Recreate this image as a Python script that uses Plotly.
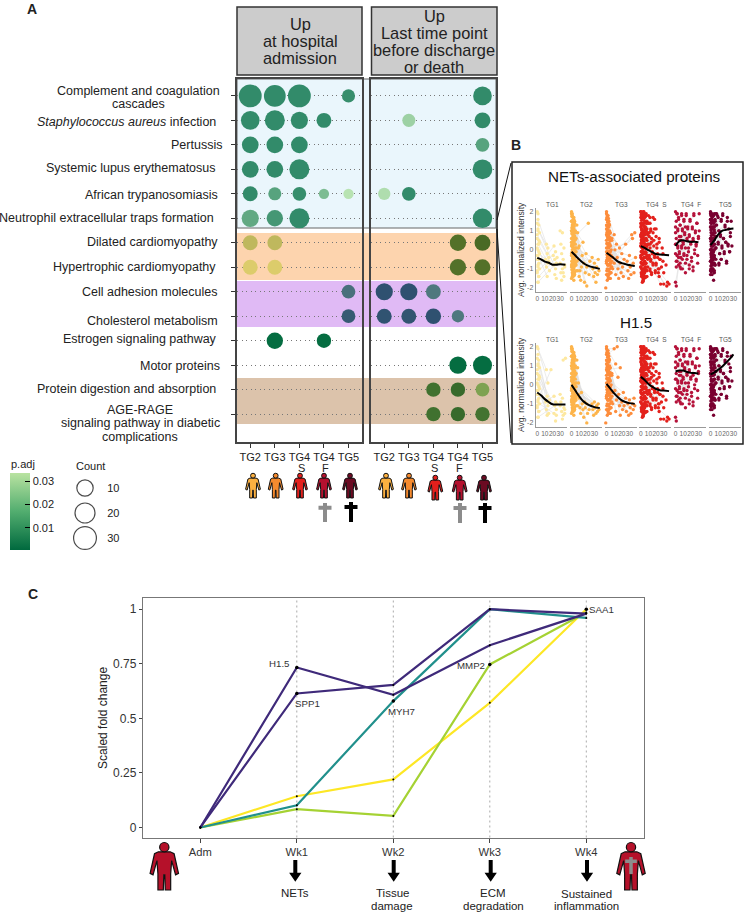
import plotly.graph_objects as go

W, H = 744, 912
def px(v): return v / W
def py(v): return 1 - v / H
FONT = "Liberation Sans"

# ---------- Panel A data ----------
row_ids = list(range(14))
groups = ["TG2", "TG3", "TG4", "TG4", "TG5"]
group_pos = [0, 1, 2, 3, 4]
N = None
count_admission = [
    [30, 26, 30, N, 4], [16, 20, 12, 7, N], [11, 11, 11, N, N], [11, 11, 20, N, N],
    [7, 4, 5, 1, 1], [12, 10, 20, N, N], [7, 7, N, N, N], [7, 7, N, N, N],
    [N, N, N, N, 5], [N, N, N, N, 5], [N, 10, N, 6, N], [N, N, N, N, N],
    [N, N, N, N, N], [N, N, N, N, N]]
padj_admission = [
    [.004, .004, .004, N, .005], [.004, .004, .004, .004, N], [.004, .004, .004, N, N], [.004, .004, .004, N, N],
    [.004, .012, .005, .02, .033], [.014, .008, .004, N, N], [.026, .026, N, N, N], [.032, .032, N, N, N],
    [N, N, N, N, .02], [N, N, N, N, .008], [N, .001, N, .001, N], [N, N, N, N, N],
    [N, N, N, N, N], [N, N, N, N, N]]
count_last = [
    [N, N, N, N, 16], [N, 4, N, N, 9], [N, N, N, N, 5], [N, N, N, N, 19],
    [3, 5, N, N, N], [N, N, N, N, 18], [N, N, N, 10, 9], [N, N, N, 10, 9],
    [12, 12, 7, N, N], [7, 7, 8, 3, N], [N, N, N, N, N], [N, N, N, 12, 17],
    [N, N, 6, 6, 5], [N, N, 6, 6, 6]]
padj_last = [
    [N, N, N, N, .004], [N, .027, N, N, .004], [N, N, N, N, .012], [N, N, N, N, .004],
    [.031, .004, N, N, N], [N, N, N, N, .004], [N, N, N, .004, .002], [N, N, N, .004, .004],
    [.003, .003, .024, N, N], [.004, .005, .003, .024, N], [N, N, N, N, N], [N, N, N, .001, .001],
    [N, N, .006, .003, .028], [N, N, .006, .003, .007]]
band_of_row = ["blue"] * 6 + ["orange"] * 2 + ["purple"] * 2 + ["white"] * 2 + ["tan"] * 2
band_ramp = {
    "blue": ((0x20, 0x7f, 0x60), (0xbd, 0xe6, 0xb5)),
    "orange": ((0x3f, 0x64, 0x20), (0xe6, 0xd2, 0x70)),
    "purple": ((0x2a, 0x4c, 0x6e), (0x5f, 0x8a, 0x85)),
    "white": ((0x00, 0x69, 0x3e), (0xb7, 0xe1, 0x9e)),
    "tan": ((0x2f, 0x63, 0x26), (0x8f, 0xb0, 0x5a)),
}
row_labels = [
    (["Complement and coagulation", "cascades"], 138, [90.7, 103.7], "center"),
    (["<i>Staphylococcus aureus</i> infection"], 218, [121.7], "right"),
    (["Pertussis"], 224, [145], "right"),
    (["Systemic lupus erythematosus"], 218, [168], "right"),
    (["African trypanosomiasis"], 220, [195], "right"),
    (["Neutrophil extracellular traps formation"], 216, [218], "right"),
    (["Dilated cardiomyopathy"], 220, [242], "right"),
    (["Hypertrophic cardiomyopathy"], 218, [267], "right"),
    (["Cell adhesion molecules"], 220, [292], "right"),
    (["Cholesterol metabolism"], 220, [321], "right"),
    (["Estrogen signaling pathway"], 219, [339], "right"),
    (["Motor proteins"], 222, [365.5], "right"),
    (["Protein digestion and absorption"], 218, [389], "right"),
    (["AGE-RAGE", "signaling pathway in diabetic", "complications"], 140, [410, 423, 436.6], "center"),
]
legend_counts = [10, 20, 30]

# ---------- Panel B data: (day, normalized intensity) ----------
panel_names = ["TG1", "TG2", "TG3", "TG4  S", "TG4  F", "TG5"]
panel_colors = ["#fde8a0", "#fdb44b", "#fd8d3c", "#e3211c", "#b5123a", "#7a0030"]
net_tg1 = [(1,1.6),(1,1.1),(0,.8),(2,.5),(1,.3),(0,.1),(2,-.1),(1,-.3),(0,-.5),(2,-.7),(1,-.9),(0,-1.2),(2,-1.4),(1,-1.7),(3,.9),(3,-.2),
 (12,.3),(14,.1),(13,-.2),(15,-.4),(14,-.7),(12,-.9),(16,-1.1),(13,-1.4),(15,-.6),(11,-.5),
 (22,.2),(24,-.1),(23,-.5),(25,-.7),(22,-.8),(24,-1),(23,-1.3),(26,-.4),(25,-1.5),(21,-.3),
 (30,1),(33,.9),(31,.3),(35,.1),(32,-.2),(34,-.5),(30,-.7),(36,-.8),(33,-1),(31,-1.2),(35,-1.4),(32,-1.6),(36,-.9),(34,-1.2)]
net_tg2 = [(0,2),(1,1.9),(2,1.7),(0,1.5),(3,1.6),(1,1.3),(2,1.2),(4,1.4),(0,1),(1,.9),(3,1.),(2,.7),(0,.6),(4,.7),(1,.4),(3,.4),(0,.2),(2,.1),(5,.3),(1,-.1),(3,-.2),(0,-.3),(2,-.4),(5,-.3),(1,-.6),(4,-.6),(0,-.8),(2,-.9),(3,-1),(6,-.8),(1,-1.2),(4,-1.2),(2,-1.4),(0,-1.5),(6,.1),
 (8,.9),(10,.2),(9,-.5),(11,-1.1),(12,-1.6),(14,-.3),(13,-.9),(10,-1.4),(15,.4),(16,-.7),(18,-1.2),(17,-1.7),(19,-.2),(20,-1.9),(20,-.9),(22,1.4),(23,-1.3),(24,-.6),
 (27,-.4),(28,-1),(29,-1.4),(30,-.7),(31,-1.2),(32,-1.7),(33,-.9),(34,-1.3),(35,-.5),(36,-1.1)]
net_tg3 = [(0,2),(1,1.8),(0,1.6),(2,1.5),(1,1.3),(3,1.2),(0,1.1),(2,.9),(4,1),(1,.7),(3,.6),(0,.5),(2,.3),(5,.5),(1,.1),(3,.1),(0,-.1),(4,-.1),(2,-.3),(6,0),(1,-.5),(3,-.5),(5,-.4),(0,-.7),(2,-.8),(4,-.8),(1,-1),(3,-1.1),(6,-.9),(0,-1.3),(2,-1.4),(5,-1.2),(4,-1.5),(1,-1.6),(-1,-2),(7,.6),(7,-.6),(8,-1),
 (10,.8),(11,0),(10,-.7),(12,-1.3),(13,.3),(14,-.4),(15,-1),(16,-1.5),(17,.1),(18,-.7),(19,-1.2),(20,-.2),(21,-.9),(22,-1.4),(23,-.5),
 (25,.3),(27,-.6),(28,-1.1),(29,-1.5),(30,-.3),(31,-.9),(32,-1.3),(33,.8),(34,.6),(35,-.7),(36,-1.2),(37,.9),(38,-.4)]
net_tg4s = [(0,2),(1,1.9),(3,2),(5,1.9),(0,1.7),(2,1.6),(4,1.7),(7,1.8),(1,1.4),(3,1.4),(6,1.5),(0,1.2),(2,1.1),(5,1.2),(8,1.4),(1,.9),(4,.9),(7,1),(0,.7),(2,.6),(3,.7),(6,.6),(9,.8),(1,.4),(4,.4),(8,.5),(0,.2),(2,.1),(5,.2),(7,.1),(10,.3),(1,-.1),(3,-.1),(6,-.1),(0,-.3),(4,-.4),(8,-.3),(2,-.5),(5,-.6),(1,-.7),(3,-.8),(7,-.7),(0,-.9),(4,-1),(9,-.9),(2,-1.1),(6,-1.1),(1,-1.3),(5,-1.4),(3,-1.5),(8,-1.4),(2,-1.7),
 (10,1.4),(12,1.7),(11,.7),(13,1),(12,.1),(14,.4),(11,-.4),(13,-.6),(12,-1.1),(15,-.2),(14,-1.3),(16,.9),(17,.2),(18,1.6),(16,-.8),(18,-.4),(19,-1.2),(20,1.1),(21,.3),(20,-.7),(22,-.2),(23,-1),(24,.6),(25,-.5),(24,-1.4),(26,-1.8),(28,.1),(29,-.6),(30,-1.8),(34,-1.9),(37,-1.8)]
net_tg4f = [(0,-1.7),(1,-1.9),(0,1.2),(1,.6),(2,1.9),(0,.3),(2,-.3),(1,-.6),(3,1),(3,.1),(4,1.6),(4,-.8),(5,.5),(5,-.2),(6,1.3),(6,-.9),(7,.7),(7,-.4),(8,1.9),(8,.2),(9,1.1),(9,-1),
 (10,.4),(11,1.5),(11,-.3),(12,.9),(13,.1),(13,-1.2),(14,1.8),(15,.6),(15,-.5),(16,1.2),(17,-.1),(18,.8),(18,-1),(19,1.6),(20,.3),(21,-.6),(22,1.1),(23,.5),(23,-1.1),(24,1.9),(25,-.2),(26,.9),(27,.2),(28,1.4),(29,-.7),(30,.6),(31,1)]
net_tg5 = [(0,1.9),(2,1.8),(5,1.9),(8,1.9),(0,1.6),(1,1.4),(3,1.5),(6,1.6),(0,1.2),(2,1.1),(4,1.2),(7,1.3),(1,.9),(3,.8),(5,.9),(0,.6),(2,.5),(4,.5),(6,.7),(1,.2),(3,.2),(5,.3),(0,0),(2,-.1),(4,-.1),(7,.1),(1,-.4),(3,-.4),(5,-.3),(0,-.6),(2,-.7),(4,-.7),(1,-1),(3,-1),(6,-.8),(0,-1.3),(2,-1.3),(5,-1.2),(4,-1.6),(7,-.5),
 (10,1.7),(11,1),(10,.3),(12,-.2),(13,.7),(11,-.8),(14,1.5),(15,.1),(14,-.5),(16,1.8),(17,.6),(18,-.2),(19,1.2),(20,.4),(21,-.7),(22,1.5),(23,.2),(25,-.1),(28,.2),(26,.9)]
h15_tg1 = [(0,2),(1,1.9),(0,1.4),(2,1.3),(1,1),(0,.6),(2,.3),(1,0),(0,-.3),(2,-.5),(1,-.8),(0,-1.1),(2,-1.4),(1,-1.7),(3,.4),(3,-1),
 (12,.8),(14,.1),(13,-.6),(15,-.9),(14,-1.1),(12,-1.3),(16,-.8),(13,-1.6),(15,-1.5),(11,-.9),
 (18,.8),(22,-.6),(24,-.9),(23,-1.1),(25,-1.3),(22,-1.5),(24,-1.9),(26,-1),(25,-1.6),
 (30,-.5),(33,-.7),(31,-.9),(35,-1.2),(32,-1.4),(34,-1.6),(30,-1.1),(36,-1.3),(33,-1.8),(37,1.4),(34,1.3),(36,-1.5)]
h15_tg2 = [(0,1.9),(1,1.8),(3,1.7),(0,1.5),(2,1.4),(4,1.5),(1,1.2),(3,1.1),(0,1),(2,.8),(5,1),(1,.6),(4,.6),(0,.4),(2,.2),(3,.3),(5,.1),(1,0),(0,-.2),(3,-.2),(6,-.1),(2,-.4),(4,-.5),(1,-.7),(5,-.7),(0,-.9),(3,-.9),(7,-.6),(2,-1.1),(6,-1.1),(4,-1.3),(1,-1.4),(3,-1.6),(8,-1.1),(6,.6),(7,1.3),
 (9,.1),(10,-.7),(11,-1.2),(12,-1.5),(13,-.4),(14,-1),(15,-1.3),(16,-1.7),(17,-.9),(18,-1.2),(20,-1),(21,-1.5),(20,-2),(23,-1.3),
 (27,-1),(28,-1.3),(29,-1.6),(30,-.9),(31,-1.2),(32,-1.5),(33,-1.1),(34,-1.4),(35,-1),(36,-1.3)]
h15_tg3 = [(0,1.9),(2,1.8),(1,1.6),(3,1.5),(0,1.3),(2,1.2),(4,1.3),(1,1),(3,.9),(0,.8),(5,.9),(2,.6),(4,.5),(1,.3),(3,.2),(0,.1),(5,.2),(2,-.1),(4,-.2),(1,-.4),(6,-.3),(3,-.5),(0,-.6),(5,-.7),(2,-.8),(4,-1),(1,-1.1),(7,-.9),(3,-1.3),(6,-1.2),(5,-1.5),(8,-.4),(7,.5),
 (10,1.9),(12,1.1),(14,2),(11,-.3),(13,-.8),(12,-1.4),(15,.4),(16,-.5),(17,-1.1),(18,.9),(18,-1.6),(20,-.9),(21,-1.3),(22,-.4),(23,-1.1),
 (25,-.7),(26,-1.4),(28,-1),(29,-1.6),(30,-.8),(31,-1.2),(32,-1.5),(34,-1),(35,-1.3),(36,-.7),(37,-1.1)]
h15_tg4s = [(0,2),(2,1.9),(4,2),(7,1.9),(1,1.7),(3,1.6),(5,1.7),(0,1.4),(2,1.3),(4,1.4),(8,1.5),(1,1.1),(3,1),(6,1.1),(0,.8),(2,.7),(5,.8),(9,.9),(1,.5),(3,.4),(7,.5),(0,.2),(2,.1),(4,.2),(6,.1),(8,.2),(1,-.1),(3,-.2),(5,-.2),(0,-.4),(2,-.5),(7,-.4),(1,-.7),(4,-.7),(9,-.5),(0,-.9),(3,-1),(6,-.9),(2,-1.2),(5,-1.2),(1,-1.4),(4,-1.5),(8,-1.1),(3,-1.6),
 (10,1.8),(12,1.4),(11,.9),(13,1.1),(12,.3),(14,.6),(11,-.3),(13,-.5),(12,-1),(15,-.1),(14,-1.2),(16,1.7),(17,.5),(18,1.1),(16,-.7),(18,-.3),(19,-1.1),(20,.7),(21,.1),(20,-.8),(22,-.4),(23,-1.2),(24,.4),(25,-.5),(24,-1),(27,-.9),(29,-.2),(30,-1.2),(33,-.8),(35,-1.7)]
h15_tg4f = [(0,2),(1,1.5),(0,.9),(1,.3),(2,1.9),(0,-.2),(2,-.6),(1,-.9),(3,1.1),(3,.2),(4,1.7),(4,-.4),(5,.7),(5,-.1),(6,1.3),(6,-.7),(7,.5),(7,-1),(8,1.8),(8,.1),(9,1),(9,-.5),
 (10,.3),(11,1.6),(11,-.2),(12,.8),(13,-.7),(13,1.2),(14,1.9),(15,.5),(15,-.3),(16,1.1),(17,.1),(18,.7),(18,-.8),(19,1.5),(20,.4),(21,-.4),(22,1.2),(23,.6),(23,-.9),(24,1.8),(25,0),(26,1),(27,.3),(28,1.4),(29,-.3),(30,.7),(31,1.9)]
h15_tg5 = [(0,2),(2,1.9),(4,1.8),(7,1.9),(0,1.6),(1,1.4),(3,1.5),(6,1.5),(0,1.2),(2,1.1),(5,1.2),(8,1.3),(1,.9),(3,.8),(6,.9),(0,.6),(2,.5),(4,.6),(7,.7),(1,.3),(3,.2),(5,.3),(0,0),(2,-.1),(4,0),(7,.1),(1,-.3),(3,-.3),(5,-.4),(0,-.6),(2,-.7),(4,-.7),(1,-1),(3,-1),(6,-.8),(0,-1.1),(5,-1.1),
 (9,1.8),(11,1),(10,.4),(12,-.2),(13,.8),(11,-.7),(14,1.6),(15,.2),(14,-.5),(16,1.9),(17,.6),(18,-.1),(19,1.3),(20,.4),(21,-.6),(22,1.7),(23,.3),(24,1.1),(25,-.1),(26,.7),(27,1.5)]
# extra readings from the densest, nearly solid part of each cloud (shared by both rows)
core_tg2 = [(.5,1.75),(1.5,1.55),(2.5,1.35),(.5,1.15),(1.5,1.05),(3.5,1.25),(.5,.85),(2.5,.95),(1.5,.55),(3.5,.75),(.5,.3),(2.5,.35),(4.5,.5),(1.5,.15),(3.5,.05),(.5,-.15),(2.5,-.2),(4.5,-.1),(1.5,-.45),(3.5,-.4),(.5,-.6),(2.5,-.65),(4.5,-.85),(1.5,-.85),(3.5,-.75),(.5,-1.05),(2.5,-1.15),(3.5,-1.35),(1.5,-1.3),(5,.9)]
core_tg3 = [(.5,1.7),(1.5,1.45),(2.5,1.65),(.5,1.25),(3.5,1.35),(1.5,1.05),(2.5,.75),(.5,.9),(3.5,.85),(4.5,.65),(1.5,.55),(.5,.35),(2.5,.15),(3.5,.35),(4.5,.25),(.5,-.25),(1.5,-.15),(2.5,-.55),(3.5,-.25),(5,-.1),(.5,-.55),(1.5,-.8),(3.5,-.75),(4.5,-.55),(.5,-1.1),(2.5,-1.05),(1.5,-1.3),(3.5,-1.25),(5.5,-.7),(2.5,-1.5)]
core_tg4s = [(.5,1.85),(2,1.8),(4,1.85),(6,1.75),(1,1.55),(3,1.6),(5,1.45),(7,1.4),(.5,1.3),(2,1.35),(4,1.25),(6,1.2),(8,1.1),(1,1.05),(3,.95),(5,.95),(.5,.8),(2,.85),(6,.85),(1,.55),(3,.5),(5,.55),(7,.6),(.5,.35),(2,.35),(4,.15),(6,.3),(9,.3),(1,.15),(3,.05),(7,-.15),(.5,-.1),(2,-.25),(5,-.2),(1,-.45),(3,-.45),(6,-.4),(.5,-.65),(2,-.75),(4,-.7),(6,-.75),(1,-1),(3,-1.1),(5,-1),(7,-1.05),(.5,-1.2),(2,-1.35),(4,-1.25),(3,-1.65),(6,-1.45)]
core_tg5 = [(.5,1.8),(1.5,1.65),(3,1.75),(.5,1.45),(2,1.45),(4,1.4),(5,1.55),(.5,1.05),(1.5,1.2),(3,1.2),(5,1.05),(1,.75),(2.5,.85),(4,.9),(.5,.45),(1.5,.6),(3,.55),(5,.55),(1,.05),(2,.25),(4,.25),(.5,-.2),(1.5,-.15),(3,-.2),(5,0),(1,-.55),(2.5,-.55),(4,-.5),(.5,-.85),(1.5,-.8),(3,-.8),(5,-.7),(1,-1.15),(2.5,-1.1),(.5,-1.05)]
panel_core = [[], core_tg2, core_tg3, core_tg4s, [], core_tg5]
panel_points = [[net_tg1, net_tg2, net_tg3, net_tg4s, net_tg4f, net_tg5],
                [h15_tg1, h15_tg2, h15_tg3, h15_tg4s, h15_tg4f, h15_tg5]]
smooth_days = [0, 5, 10, 15, 20, 25, 30, 37]
smooth_net = [[-.42, -.5, -.62, -.68, -.78, -.78, -.76, -.78], [-.1, -.3, -.5, -.68, -.8, -.88, -.93, -1.0],
              [-.15, -.3, -.45, -.62, -.7, -.75, -.8, -.85], [.2, .1, -.02, -.12, -.22, -.25, -.26, -.28],
              [.2, .46, .5, .45, .42, .42, .4, N], [.25, .5, .8, 1.0, 1.05, 1.1, 1.12, N]]
smooth_h15 = [[-.4, -.55, -.75, -.9, -1.02, -1.03, -1.03, -1.03], [0, -.3, -.6, -.85, -1.0, -1.1, -1.17, -1.22],
              [.05, -.2, -.45, -.65, -.82, -.9, -.96, -1.0], [.42, .25, .05, -.1, -.22, -.28, -.3, -.33],
              [.7, .75, .75, .68, .63, .62, .6, N], [.55, .65, .8, .95, 1.15, 1.35, 1.6, N]]
panel_smooth = [smooth_net, smooth_h15]

# ---------- Panel C data ----------
timepoints = ["Adm", "Wk1", "Wk2", "Wk3", "Wk4"]
time_pos = [0, 1, 2, 3, 4]
fc_h15 = [0, .733, .608, .835, .98]
fc_spp1 = [0, .614, .653, 1.0, .98]
fc_myh7 = [0, .102, .579, 1.0, .96]
fc_mmp2 = [0, .084, .053, .747, .985]
fc_saa1 = [0, .143, .22, .571, 1.0]

fig = go.Figure()
shapes, notes = [], []

def txt(x, y, s, size=12, anchor="center", color="#222", bold=False):
    notes.append(dict(xref="paper", yref="paper", x=px(x), y=py(y), text=f"<b>{s}</b>" if bold else s,
                      showarrow=False, xanchor=anchor, yanchor="middle", align=anchor,
                      font=dict(family=FONT, size=size, color=color)))

def rect(x0, y0, x1, y1, fill, line=None, lw=1, layer="below"):
    shapes.append(dict(type="rect", xref="paper", yref="paper", x0=px(x0), x1=px(x1), y0=py(y0), y1=py(y1),
                       fillcolor=fill, line=dict(color=line or fill, width=lw if line else 0), layer=layer))

def seg(x0, y0, x1, y1, color="#000", lw=1):
    shapes.append(dict(type="line", xref="paper", yref="paper", x0=px(x0), x1=px(x1), y0=py(y0), y1=py(y1),
                       line=dict(color=color, width=lw), layer="above"))

def poly(pts, fill, line=None, lw=1):
    d = "M " + " L ".join(f"{px(a):.5f},{py(b):.5f}" for a, b in pts) + " Z"
    shapes.append(dict(type="path", xref="paper", yref="paper", path=d, fillcolor=fill,
                       line=dict(color=line or fill, width=lw if line else 0), layer="above"))

BODY = [(.12, .2), (.2, .24), (.29, .64), (.23, .67), (.15, .38), (.13, .65), (.13, .98), (.02, .98), (.01, .67)]
def person(cx, top, h, color, lw=1):
    pts = [(cx - a * h, top + b * h) for a, b in BODY] + [(cx + a * h, top + b * h) for a, b in reversed(BODY)]
    poly(pts, color, "#111", lw)
    r = .095 * h
    shapes.append(dict(type="circle", xref="paper", yref="paper", x0=px(cx - r), x1=px(cx + r),
                       y0=py(top + .105 * h + r), y1=py(top + .105 * h - r), fillcolor=color,
                       line=dict(color="#111", width=lw), layer="above"))

def cross(cx, top, bottom, span, thick, color):
    arm = top + (bottom - top) * .25
    poly([(cx - thick / 2, top), (cx + thick / 2, top), (cx + thick / 2, arm - thick / 2), (cx + span / 2, arm - thick / 2),
          (cx + span / 2, arm + thick / 2), (cx + thick / 2, arm + thick / 2), (cx + thick / 2, bottom), (cx - thick / 2, bottom),
          (cx - thick / 2, arm + thick / 2), (cx - span / 2, arm + thick / 2), (cx - span / 2, arm - thick / 2), (cx - thick / 2, arm - thick / 2)], color)

def arrow(cx, y0, y1, stem=4, head=12.3):
    neck = y1 - 9
    poly([(cx - stem / 2, y0), (cx + stem / 2, y0), (cx + stem / 2, neck), (cx + head / 2, neck), (cx, y1), (cx - head / 2, neck), (cx - stem / 2, neck)], "#000")

def size_of(c): return 7.5 + 2.8 * c ** .5
def color_of(p, row):
    lo, hi = band_ramp[band_of_row[row]]
    t = min(p / .034, 1)
    return "rgb(%d,%d,%d)" % tuple(round(a + (b - a) * t) for a, b in zip(lo, hi))

# ---------- Panel A ----------
rect(237, 79, 496, 228, "#eaf6fc", "#666", 1)
rect(237, 233, 496, 280, "#fdd4ae")
rect(237, 281, 496, 327, "#e0baf5")
rect(237, 378, 496, 424, "#dcc3ab")

for counts, pvals, xa, ya in ((count_admission, padj_admission, "x", "y"), (count_last, padj_last, "x2", "y2")):
    xs, ys, ss, cs = [], [], [], []
    for r in row_ids:
        for g in group_pos:
            if counts[r][g] is not None:
                xs.append(g); ys.append(r); ss.append(size_of(counts[r][g])); cs.append(color_of(pvals[r][g], r))
    fig.add_trace(go.Scatter(x=xs, y=ys, mode="markers", xaxis=xa, yaxis=ya, cliponaxis=False, showlegend=False,
                             marker=dict(size=ss, color=cs, line=dict(width=0), opacity=1)))

common_x = dict(range=[-.54, 4.55], tickvals=group_pos, ticktext=groups, ticks="outside", ticklen=4, tickcolor="#333",
                showline=True, mirror=True, linecolor="#444", linewidth=1.5, showgrid=False, zeroline=False,
                tickfont=dict(family=FONT, size=11, color="#222"))
common_y = dict(range=[14.15, -.69], tickvals=row_ids, showticklabels=False, showgrid=True, griddash="1px,3.5px", gridcolor="#777",
                gridwidth=1, showline=True, mirror=True, linecolor="#444", linewidth=1.5, zeroline=False)
axes = dict(
    xaxis=dict(domain=[px(237), px(362)], anchor="y", **common_x),
    yaxis=dict(domain=[py(442.3), py(79)], anchor="x", ticks="outside", ticklen=4, tickcolor="#333", **common_y),
    xaxis2=dict(domain=[px(371), px(496)], anchor="y2", **common_x),
    yaxis2=dict(domain=[py(442.3), py(79)], anchor="x2", ticks="", **common_y),
)
for lines, x, ys, anc in row_labels:
    for line, y in zip(lines, ys):
        txt(x, y, line, 12.5, anc)
for x in (301, 434.5):
    txt(x, 467.5, "S", 11)
for x in (325.5, 459):
    txt(x, 467.5, "F", 11)

rect(237, 7, 362, 75, "#cccccc", "#333", 1.5)
rect(371.5, 7, 497, 75, "#cccccc", "#333", 1.5)
for s, y in (("Up", 24), ("at hospital", 41), ("admission", 58)):
    txt(300, y, s, 16.4)
for s, y in (("Up", 16), ("Last time point", 33), ("before discharge", 50), ("or death", 67)):
    txt(434, y, s, 16.4)

for cx, c, top in ((253, "#fbb040", 473), (275.7, "#f58a2e", 473), (300, "#e31f1c", 473), (324, "#b5112f", 473), (350, "#6b0a22", 473),
                   (386, "#fbb040", 473), (409, "#f58a2e", 473), (435.3, "#e31f1c", 475), (459.7, "#b5112f", 475), (484, "#6b0a22", 475)):
    person(cx, top, 25.5, c)
cross(325, 503, 522, 13, 4, "#8c8c8c")
cross(351, 502, 522, 13, 4, "#000")
cross(460, 503, 523, 13, 4, "#8c8c8c")
cross(485, 503, 523, 13, 4, "#000")

txt(32, 8.5, "A", 14, bold=True)
txt(516, 145, "B", 14, bold=True)
txt(33, 594, "C", 14, bold=True)

# colour legend
fig.add_trace(go.Scatter(x=[None], y=[None], mode="markers", showlegend=False, xaxis="x4", yaxis="y4",
    marker=dict(color=[.0005, .0335], cmin=.0005, cmax=.0335,
                colorscale=[[0, "#00693e"], [.5, "#52ad6f"], [1, "#b9e3a1"]], showscale=True,
                colorbar=dict(x=px(10), xanchor="left", y=py(473), yanchor="top", lenmode="pixels", len=77,
                              thicknessmode="pixels", thickness=20, xpad=0, ypad=0, outlinewidth=0,
                              tickvals=[.01, .02, .03], ticktext=["0.01", "0.02", "0.03"], ticks="inside", ticklen=5,
                              tickcolor="#000", tickfont=dict(family=FONT, size=11, color="#222")))))
txt(23, 464, "p.adj", 11)
for y in (481, 503, 526):
    seg(10, y, 15, y, "#000", 1)

# count legend
fig.add_trace(go.Scatter(x=[0] * 3, y=legend_counts, mode="markers", showlegend=False, xaxis="x4", yaxis="y4", cliponaxis=False,
                         marker=dict(size=[size_of(c) for c in legend_counts], color="white", line=dict(color="#000", width=1.2))))
axes["xaxis4"] = dict(domain=[px(70), px(100)], anchor="y4", range=[-1, 1], visible=False)
axes["yaxis4"] = dict(domain=[py(550), py(470)], anchor="x4", range=[34.8, 2.8], side="right", tickvals=legend_counts,
                      ticks="outside", ticklen=4, tickcolor="rgba(0,0,0,0)", showgrid=False, zeroline=False, showline=False,
                      tickfont=dict(family=FONT, size=11, color="#222"))
txt(90.5, 466, "Count", 11)

# ---------- Panel B ----------
rect(512, 162, 743, 444, "rgba(0,0,0,0)", "#222", 1.5, layer="above")
seg(497, 220, 511, 163, "#111", 1)
seg(497, 229, 511, 443, "#111", 1)
txt(634, 177, "NETs-associated proteins", 15.2, color="#111")
txt(636, 322, "H1.5", 15.2, color="#111")

panel_left = [535.7, 570, 605, 639.3, 674, 709]
panel_width = 31.6
row_top = [208, 343]
row_bottom = [291.7, 426.7]
axis_n = 5
for ri in range(2):
    other = 1 - ri
    for pi in range(6):
        xa, ya = f"x{axis_n}", f"y{axis_n}"
        pts = panel_points[ri][pi]
        early = [p for p in pts if p[0] < 10]
        late = [p for p in pts if p[0] >= 10]
        lx, ly = [], []
        for a, b in zip(early, late):
            lx += [a[0], b[0], None]; ly += [a[1], b[1], None]
        fig.add_trace(go.Scatter(x=lx, y=ly, mode="lines", xaxis=xa, yaxis=ya, showlegend=False,
                                 line=dict(color="#dedede", width=.6)))
        # both rows show very similar clouds, so the other row's readings thicken this one
        borrowed = panel_points[other][pi] if pi >= 3 else [p for p in panel_points[other][pi] if p[0] < 10]
        cloud = pts + borrowed + panel_core[pi]
        fig.add_trace(go.Scatter(x=[p[0] for p in cloud], y=[p[1] for p in cloud], mode="markers", xaxis=xa, yaxis=ya,
                                 showlegend=False, cliponaxis=False,
                                 marker=dict(size=3.4, color=panel_colors[pi], line=dict(width=0))))
        sm = panel_smooth[ri][pi]
        fig.add_trace(go.Scatter(x=smooth_days, y=sm, mode="lines", xaxis=xa, yaxis=ya, showlegend=False,
                                 line=dict(color="#000", width=2, shape="spline")))
        axes[f"xaxis{axis_n}"] = dict(domain=[px(panel_left[pi]), px(panel_left[pi] + panel_width)], anchor=ya, range=[-2, 39.4],
                                      tickvals=[0, 10, 20, 30], tickangle=0, showgrid=False, zeroline=False, showline=True, linecolor="#999",
                                      linewidth=1, ticks="", ticklen=0, tickfont=dict(family=FONT, size=6.5, color="#666"))
        ay = dict(domain=[py(row_bottom[ri]), py(row_top[ri])], anchor=xa, range=[-2.2, 2.2], showgrid=False, zeroline=False)
        if pi == 0:
            ay.update(tickvals=[-2, -1, 0, 1, 2], ticktext=["-2", "-1", "0", "1", "2"], showline=True, linecolor="#999", linewidth=1,
                      tickfont=dict(family=FONT, size=7, color="#666"), ticks="", ticklen=0)
        else:
            ay.update(visible=False)
        axes[f"yaxis{axis_n}"] = ay
        txt(panel_left[pi] + panel_width / 2 + 1, row_top[ri] - 4, panel_names[pi], 6.5, color="#555")
        axis_n += 1
    notes.append(dict(xref="paper", yref="paper", x=px(521), y=py(row_top[ri] + 42), text="Avg. normalized intensity", textangle=-90,
                      showarrow=False, xanchor="center", yanchor="middle", font=dict(family=FONT, size=8.5, color="#333")))

# ---------- Panel C ----------
series = [(fc_h15, "#3f2a7a"), (fc_spp1, "#3f2a7a"), (fc_myh7, "#21908c"), (fc_mmp2, "#a5d233"), (fc_saa1, "#fde725")]
for t in time_pos[1:]:
    shapes.append(dict(type="line", xref="x3", yref="y3 domain", x0=t, x1=t, y0=0, y1=1, layer="below",
                       line=dict(color="#aaa", width=1, dash="2px,3px")))
for vals, col in [series[4], series[3], series[2], series[1], series[0]]:
    fig.add_trace(go.Scatter(x=time_pos, y=vals, mode="lines", xaxis="x3", yaxis="y3", showlegend=False,
                             line=dict(color=col, width=2.2)))
for vals, col in series:
    fig.add_trace(go.Scatter(x=time_pos, y=vals, mode="markers", xaxis="x3", yaxis="y3", showlegend=False,
                             marker=dict(size=2, color="#000")))
hits = [(1, fc_h15[1]), (2, fc_myh7[2]), (3, fc_mmp2[3]), (4, fc_saa1[4]), (1, fc_spp1[1])]
fig.add_trace(go.Scatter(x=[h[0] for h in hits], y=[h[1] for h in hits], mode="markers", xaxis="x3", yaxis="y3", showlegend=False,
                         cliponaxis=False, marker=dict(size=3.5, color="#000")))
for s, t, v, dx, dy in (("H1.5", 1, fc_h15[1], -18, 4.3), ("SPP1", 1, fc_spp1[1], 10.3, -10), ("MYH7", 2, fc_myh7[2], 7.7, -10.7),
                        ("MMP2", 3, fc_mmp2[3], -19.3, -1.5), ("SAA1", 4, fc_saa1[4], 15, 0)):
    notes.append(dict(xref="x3", yref="y3", x=t, y=v, xshift=dx, yshift=dy, text=s, showarrow=False,
                      font=dict(family=FONT, size=9.7, color="#333")))
axes["xaxis3"] = dict(domain=[px(143), px(644)], anchor="y3", range=[-.594, 4.598], tickvals=time_pos, ticktext=timepoints,
                      ticks="outside", ticklen=4, tickcolor="#444", showline=True, mirror=True, linecolor="#777", linewidth=1.4,
                      showgrid=False, zeroline=False, tickfont=dict(family=FONT, size=11.2, color="#333"))
axes["yaxis3"] = dict(domain=[py(837.5), py(598.3)], anchor="x3", range=[-.046, 1.05], tickvals=[0, .25, .5, .75, 1],
                      ticktext=["0", "0.25", "0.5", "0.75", "1"], ticks="outside", ticklen=3, tickcolor="#444", showline=True,
                      mirror=True, linecolor="#777", linewidth=1.4, showgrid=False, zeroline=False,
                      tickfont=dict(family=FONT, size=12, color="#333"),
                      title=dict(text="Scaled fold change", standoff=2, font=dict(family=FONT, size=12, color="#222")))
person(164.3, 842, 49, "#b5112a", 1.2)
person(631, 842, 49, "#b5112a", 1.2)
cross(631, 857, 874, 11.7, 3.5, "#8c8c8c")
arrow(295.3, 860, 881.7); arrow(393.7, 860, 881.7); arrow(490.7, 860, 881.7); arrow(587, 860, 881.7)
for s, x, y in (("NETs", 294.7, 893), ("Tissue", 392.3, 893), ("damage", 392.3, 905.7), ("ECM", 493.3, 893), ("degradation", 493.3, 905.7),
                ("Sustained", 586.7, 894), ("inflammation", 586.7, 906)):
    txt(x, y, s, 11.5)

fig.update_layout(width=W, height=H, margin=dict(l=0, r=0, t=0, b=0, autoexpand=False), paper_bgcolor="white",
                  plot_bgcolor="rgba(0,0,0,0)", showlegend=False, shapes=shapes, annotations=notes,
                  font=dict(family=FONT), **axes)
fig.write_html("out.html", config={"displayModeBar": False},
               post_script="document.body.style.margin='0';document.documentElement.style.overflow='hidden';")
